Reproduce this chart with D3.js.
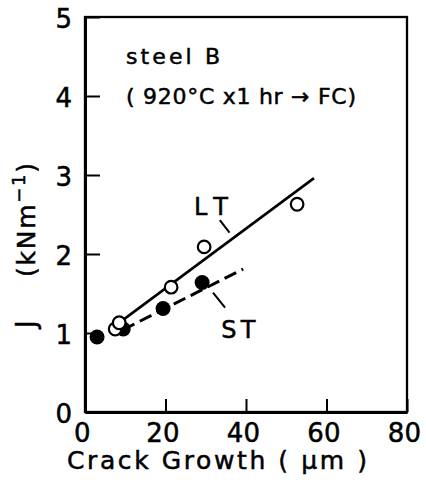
<!DOCTYPE html>
<html>
<head>
  <meta charset="utf-8">
  <title>J vs crack growth</title>
  <script src="https://d3js.org/d3.v7.min.js"></script>
  <style>
    body { margin: 0; background: #fff; }
    svg { display: block; font-family: "DejaVu Sans", sans-serif; }
    svg text { fill: #000; stroke: #000; stroke-width: 0.5px; }
    .label { font-size: 24px; }
  </style>
</head>
<body>
  <script>
    // values
    var xTicks = [0, 20, 40, 60, 80];
    var yTicks = [0, 1, 2, 3, 4, 5];
    var ltPoints = [[7.5, 1.05], [8.5, 1.13], [21.4, 1.58], [29.6, 2.09], [52.7, 2.63]];
    var stPoints = [[3, 0.95], [9.5, 1.05], [19.4, 1.31], [29.1, 1.64]];
    var ltFit = [[7.7, 1.10], [56.9, 2.96]];
    var stFit = [[9.4, 1.04], [39.3, 1.81]];
    var ltLeader = [[33.5, 2.43], [35.9, 2.27]];
    var stLeader = [[31.8, 1.51], [34.8, 1.32]];

    var margin = {top: 17, right: 19, bottom: 85, left: 85},
        width = 426 - margin.left - margin.right,
        height = 497 - margin.top - margin.bottom;

    var x = d3.scaleLinear().domain([0, 80]).range([0, width]);
    var y = d3.scaleLinear().domain([0, 5]).range([height, 0]);

    var svg = d3.select("body").append("svg")
        .attr("width", 426)
        .attr("height", 497)
      .append("g")
        .attr("transform", "translate(" + margin.left + "," + margin.top + ")");

    // frame (top and right are thinner)
    svg.append("rect")
        .attr("width", width)
        .attr("height", height)
        .attr("fill", "none")
        .attr("stroke", "#000")
        .attr("stroke-width", 2.3);

    var xAxis = d3.axisBottom(x).tickValues(xTicks).tickFormat(d3.format("d"))
        .tickSizeInner(-13).tickSizeOuter(0).tickPadding(12);
    var yAxis = d3.axisLeft(y).tickValues(yTicks).tickFormat(d3.format("d"))
        .tickSizeInner(-15).tickSizeOuter(0).tickPadding(13);

    var gx = svg.append("g").attr("transform", "translate(0," + height + ")").call(xAxis);
    var gy = svg.append("g").call(yAxis);
    gx.select(".domain").attr("stroke-width", 3);
    gy.select(".domain").attr("stroke-width", 3);
    gx.selectAll(".tick line").attr("stroke-width", 2);
    gy.selectAll(".tick line").attr("stroke-width", 2);
    [gx, gy].forEach(g => g.attr("font-family", null).attr("font-size", null));
    gx.selectAll(".tick text").style("font-size", "26px").attr("dx", "-0.12em");
    gy.selectAll(".tick text").style("font-size", "26px").attr("dy", "0.42em");

    var line = d3.line().x(d => x(d[0])).y(d => y(d[1]));

    svg.append("path").datum(ltFit)
        .attr("d", line).attr("fill", "none").attr("stroke", "#000").attr("stroke-width", 2.6);
    svg.append("path").datum(stFit)
        .attr("d", line).attr("fill", "none").attr("stroke", "#000").attr("stroke-width", 3)
        .attr("stroke-dasharray", "13,6");

    svg.append("path").datum(ltLeader)
        .attr("d", line).attr("stroke", "#000").attr("stroke-width", 2);
    svg.append("path").datum(stLeader)
        .attr("d", line).attr("stroke", "#000").attr("stroke-width", 2);

    svg.selectAll(".st").data(stPoints).enter().append("circle")
        .attr("class", "st")
        .attr("cx", d => x(d[0]))
        .attr("cy", d => y(d[1]))
        .attr("r", 7.5)
        .attr("fill", "#000");

    svg.selectAll(".lt").data(ltPoints).enter().append("circle")
        .attr("class", "lt")
        .attr("cx", d => x(d[0]))
        .attr("cy", d => y(d[1]))
        .attr("r", 6.3)
        .attr("fill", "#fff")
        .attr("stroke", "#000")
        .attr("stroke-width", 2.2);

    // series labels
    svg.append("text").attr("class", "label")
        .attr("x", x(31.3)).attr("y", y(2.5))
        .attr("text-anchor", "middle")
        .attr("textLength", 34).attr("lengthAdjust", "spacing")
        .text("LT");
    svg.append("text").attr("class", "label")
        .attr("x", x(38.1)).attr("y", y(0.94))
        .attr("text-anchor", "middle")
        .attr("textLength", 34).attr("lengthAdjust", "spacing")
        .text("ST");

    // specimen note
    svg.append("text")
        .attr("x", 41).attr("y", 47)
        .attr("font-size", 22)
        .attr("textLength", 94).attr("lengthAdjust", "spacing")
        .text("steel B");
    svg.append("text")
        .attr("x", 41).attr("y", 87)
        .attr("font-size", 22)
        .attr("textLength", 230).attr("lengthAdjust", "spacing")
        .text("( 920°C x1 hr → FC)");

    // axis titles
    svg.append("text")
        .attr("x", width / 2 - 29)
        .attr("y", height + 57)
        .attr("font-size", 25)
        .attr("text-anchor", "middle")
        .attr("textLength", 300).attr("lengthAdjust", "spacing")
        .text("Crack Growth ( µm )");

    var yt = svg.append("g").attr("transform", "translate(" + (35 - margin.left) + ",0) rotate(-90)");
    yt.append("text")
        .attr("x", -(328 - margin.top))
        .attr("y", 0)
        .attr("font-size", 26)
        .text("J");
    var unit = yt.append("text")
        .attr("x", -(277 - margin.top))
        .attr("y", 0)
        .attr("font-size", 25)
        .attr("textLength", 114).attr("lengthAdjust", "spacing");
    unit.append("tspan").text("(kNm");
    unit.append("tspan").attr("dy", -10).attr("font-size", 18).text("−1");
    unit.append("tspan").attr("dy", 10).text(")");
  </script>
</body>
</html>
